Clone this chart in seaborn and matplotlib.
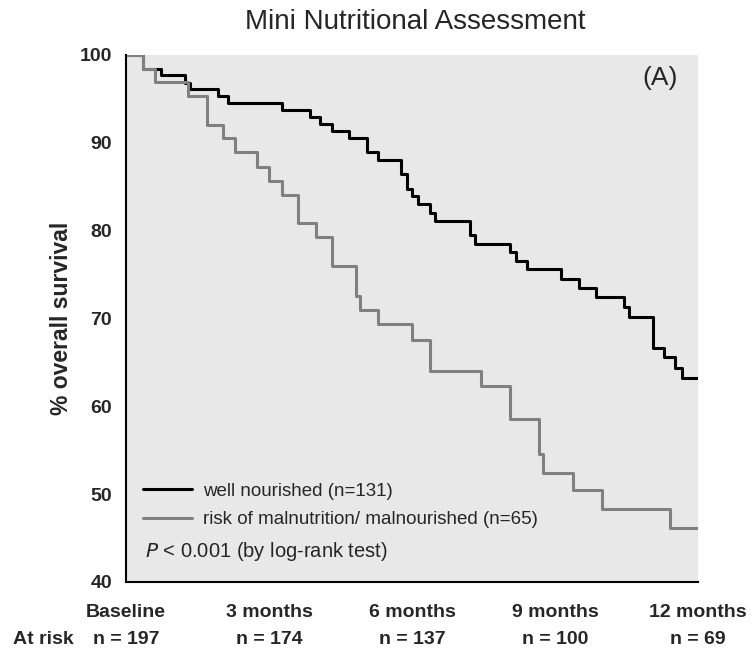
import pandas as pd
import matplotlib.pyplot as plt
import seaborn as sns

# Kaplan-Meier step points (months, % survival)
well_t = [0, 0.36, 0.73, 1.24, 1.34, 1.94, 2.14, 3.27, 3.85, 4.08, 4.33, 4.68, 5.06, 5.29,
          5.76, 5.89, 6.01, 6.13, 6.38, 6.48, 7.22, 7.32, 8.06, 8.18, 8.41, 9.13, 9.50,
          9.86, 10.45, 10.56, 11.05, 11.29, 11.52, 11.66, 12]
well_s = [100, 98.4, 97.7, 96.8, 96.1, 95.3, 94.5, 93.7, 92.9, 92.1, 91.4, 90.5, 88.9, 88.0,
          86.4, 84.7, 83.9, 83.0, 82.0, 81.1, 79.5, 78.5, 77.6, 76.6, 75.6, 74.5, 73.5,
          72.4, 71.3, 70.2, 66.6, 65.6, 64.4, 63.2, 63.2]

risk_t = [0, 0.36, 0.61, 1.31, 1.69, 2.03, 2.29, 2.75, 3.01, 3.27, 3.61, 3.98, 4.33, 4.82,
          4.91, 5.29, 6.01, 6.38, 7.44, 8.06, 8.67, 8.75, 9.37, 9.98, 11.41, 12]
risk_s = [100, 98.4, 96.9, 95.3, 92.0, 90.5, 88.9, 87.3, 85.7, 84.1, 80.9, 79.3, 76.0, 72.6,
          71.0, 69.4, 67.5, 64.0, 62.3, 58.6, 54.6, 52.4, 50.5, 48.3, 46.1, 46.1]

groups = ["well nourished (n=131)", "risk of malnutrition/ malnourished (n=65)"]
tick_months = [0, 3, 6, 9, 12]
tick_labels = ["Baseline", "3 months", "6 months", "9 months", "12 months"]
at_risk = ["n = 197", "n = 174", "n = 137", "n = 100", "n = 69"]

df = pd.concat([
    pd.DataFrame({"month": well_t, "survival": well_s, "group": groups[0]}),
    pd.DataFrame({"month": risk_t, "survival": risk_s, "group": groups[1]}),
])

sns.set_style("white")
plt.rcParams["font.family"] = ["Liberation Sans", "DejaVu Sans"]

fig = plt.figure(figsize=(7.53, 6.57), dpi=100)
ax = fig.add_axes([126 / 753, 1 - 582 / 657, 572 / 753, 527 / 657])
ax.set_facecolor("#e8e8e8")

sns.lineplot(data=df, x="month", y="survival", hue="group", hue_order=groups,
             palette=["#000000", "#808080"], estimator=None, sort=True,
             drawstyle="steps-post", linewidth=2.2, ax=ax, legend=True)

ax.set_xlim(0, 12)
ax.set_ylim(40, 100)
ax.set_yticks(range(40, 101, 10))
ax.set_xticks(tick_months)
ax.set_xticklabels([])
ax.tick_params(axis="both", direction="out", length=7, width=1.2, color="black")
ax.tick_params(axis="y", labelsize=14, pad=3)
for lab in ax.get_yticklabels():
    lab.set_fontweight("bold")
for side in ["top", "right"]:
    ax.spines[side].set_visible(False)
for side in ["left", "bottom"]:
    ax.spines[side].set_linewidth(1.5)
    ax.spines[side].set_color("black")

ax.set_xlabel("")
ax.set_ylabel("% overall survival", fontsize=16.5, fontweight="bold", labelpad=5)

leg = ax.legend(loc="lower left", bbox_to_anchor=(0.0, 0.07), frameon=False,
                fontsize=13.5, handlelength=2.6, handletextpad=0.6, labelspacing=0.6,
                borderaxespad=0.5)
for line in leg.get_lines():
    line.set_linewidth(2.2)

ax.text(0.033, 0.058, r"$P$ < 0.001 (by log-rank test)", transform=ax.transAxes,
        fontsize=14.5, va="center", ha="left")
ax.text(0.965, 0.957, "(A)", transform=ax.transAxes, fontsize=19, ha="right", va="center")

fig.text(415 / 753, 1 - 22 / 657, "Mini Nutritional Assessment", fontsize=20,
         ha="center", va="center")

for m, lab, n in zip(tick_months, tick_labels, at_risk):
    ax.text(m, -0.058, lab, transform=ax.get_xaxis_transform(), ha="center", va="center",
            fontsize=14, fontweight="bold")
    ax.text(m, -0.11, n, transform=ax.get_xaxis_transform(), ha="center", va="center",
            fontsize=14, fontweight="bold")
ax.text(-0.145, -0.11, "At risk", transform=ax.transAxes, ha="center", va="center",
        fontsize=14, fontweight="bold")

fig.savefig("out.png", dpi=100)
